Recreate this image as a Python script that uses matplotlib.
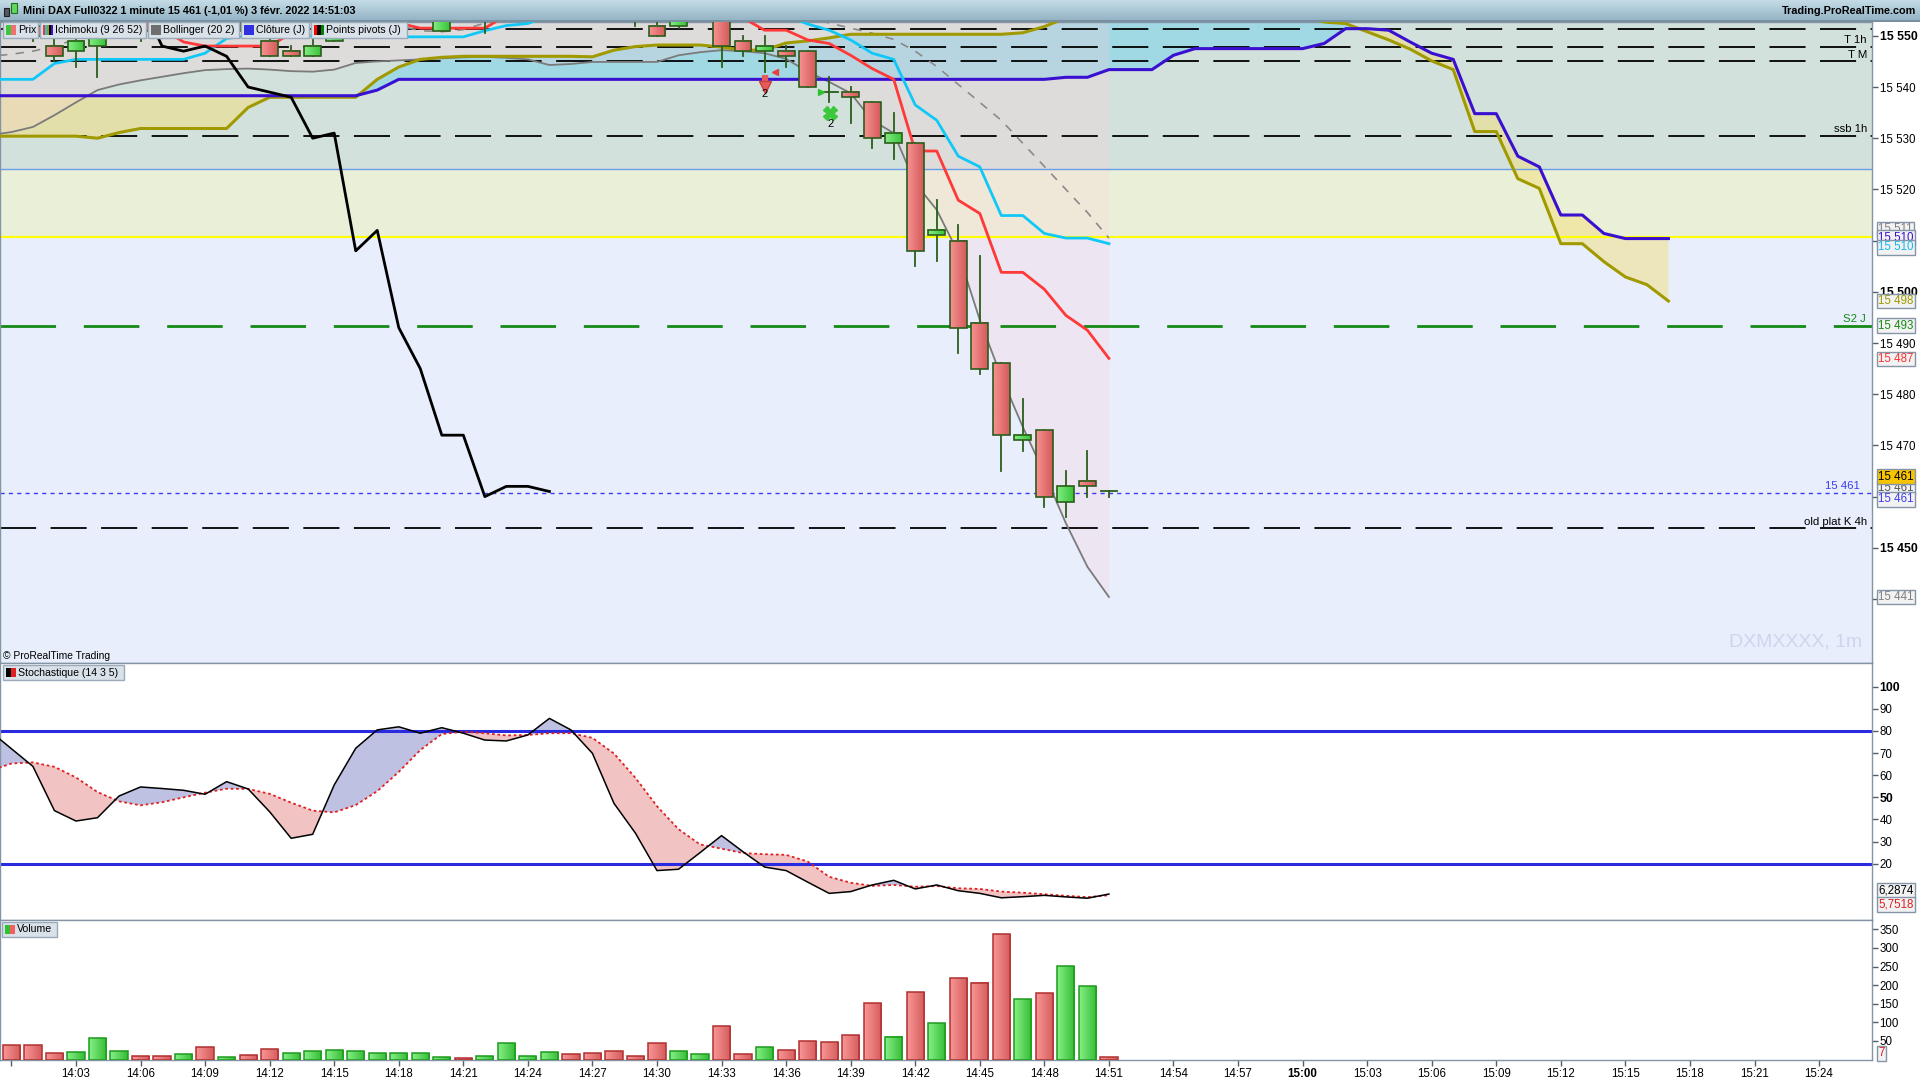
import numpy as np
import matplotlib
matplotlib.use("Agg")
import matplotlib.pyplot as plt
from matplotlib.colors import to_rgb
from matplotlib.patches import Rectangle

plt.rcParams["font.family"] = ["Liberation Sans", "DejaVu Sans"]

W, H = 1920, 1080

# =====================================================================
# Values (x = minutes after 14:00)
# =====================================================================

candle_min = list(range(0, 52))
opens = [
    15556, 15552, 15548, 15547, 15548, 15551, 15554, 15552, 15550, 15553,
    15551, 15554, 15549, 15547, 15546, 15549, 15553, 15555, 15556, 15557,
    15551, 15555, 15553, 15555, 15557, 15558, 15560, 15558, 15556, 15555,
    15552, 15552, 15554, 15557, 15549, 15547, 15547, 15547, 15539, 15539,
    15537, 15529, 15529, 15511, 15510, 15494, 15486, 15471, 15473, 15459,
    15463, 15461,
]
highs = [
    15558, 15554, 15550, 15550, 15553, 15555, 15556, 15554, 15554, 15555,
    15555, 15556, 15552, 15548, 15550, 15553, 15556, 15558, 15559, 15560,
    15557, 15557, 15556, 15558, 15560, 15561, 15561, 15559, 15557, 15556,
    15555, 15556, 15559, 15558, 15550, 15550, 15548, 15547, 15542, 15540,
    15537, 15535, 15529, 15518, 15513, 15507, 15486, 15479, 15473, 15465,
    15469, 15461,
]
lows = [
    15553.5, 15549, 15545, 15544, 15542, 15550, 15549, 15550, 15549.6, 15550,
    15550, 15550, 15546, 15546, 15546, 15549, 15552.8, 15553, 15554, 15553.5,
    15551, 15552.8, 15550.5, 15554, 15556, 15557, 15557, 15555, 15554, 15551.9,
    15550, 15551.5, 15553, 15544, 15546, 15543, 15544, 15540, 15537, 15533,
    15528, 15526, 15505, 15506, 15488, 15484, 15465, 15469, 15458, 15456,
    15460, 15460,
]
closes = [
    15554, 15550, 15546, 15549, 15551, 15554, 15551, 15550, 15553, 15551,
    15554, 15551, 15546, 15546, 15548, 15552, 15555, 15557, 15558, 15559,
    15555, 15553, 15555, 15557, 15558, 15560, 15558, 15556, 15555, 15553,
    15550, 15554, 15557, 15548, 15547, 15548, 15546, 15540, 15539, 15538,
    15530, 15531, 15508, 15512, 15493, 15485, 15472, 15472, 15460, 15462,
    15462, 15461,
]
volumes = [
    38, 38, 17, 20, 57, 22, 9, 9, 14, 33,
    6, 12, 28, 17, 22, 25, 22, 17, 17, 17,
    6, 4, 9, 44, 9, 20, 14, 17, 22, 9,
    44, 22, 14, 89, 14, 33, 25, 49, 46, 65,
    151, 62, 182, 97, 218, 207, 337, 162, 178, 251,
    197, 6,
]
vol_up = [
    0, 0, 0, 1, 1, 1, 0, 0, 1, 0,
    1, 0, 0, 1, 1, 1, 1, 1, 1, 1,
    1, 0, 1, 1, 1, 1, 0, 0, 0, 0,
    0, 1, 1, 0, 0, 1, 0, 0, 0, 0,
    0, 1, 0, 1, 0, 0, 0, 1, 0, 1,
    1, 0,
]

# indicator lines, 13:59 .. 14:51
line_min = list(range(-1, 52))
tenkan = [
    15555, 15555, 15555, 15555, 15555, 15555, 15555,
    15554, 15551.4, 15548.8, 15548, 15548, 15548, 15548,
    15550.5, 15553.5, 15553.5, 15553.5, 15553.5, 15552.5, 15551.5,
    15551.5, 15551.5, 15551.5, 15554, 15554, 15554, 15554,
    15554, 15554, 15554, 15554, 15554, 15554, 15554,
    15553.5, 15551.1, 15551.1, 15549.2, 15548.5, 15546.2, 15543.6,
    15541.5, 15527.5, 15527.5, 15517.9, 15515.3, 15503.8, 15503.8,
    15500.5, 15495.4, 15492.5, 15487,
]
kijun = [
    15541.5, 15541.5, 15541.5, 15544.6, 15545.4, 15545.4, 15545.4,
    15545.4, 15545.4, 15545.4, 15546.6, 15549.5, 15550, 15550,
    15550, 15550, 15550, 15550, 15550, 15549.8, 15549.8,
    15549.8, 15549.8, 15551, 15552, 15552.4, 15554, 15554,
    15554, 15554, 15554, 15554, 15554, 15554, 15554,
    15554, 15554, 15554, 15552.3, 15551.1, 15549.2, 15546.6,
    15545.4, 15536.5, 15533.5, 15526.5, 15524.4, 15514.9, 15514.9,
    15511.4, 15510.5, 15510.5, 15509.4,
]
boll_low = [
    15530.6, 15531.2, 15532.2, 15534.5, 15537, 15539.4, 15540.5,
    15541.3, 15542, 15542.7, 15543.3, 15543.5, 15543.6, 15543.4,
    15543.1, 15543, 15543.4, 15544.7, 15545, 15545.2, 15545.4,
    15545.6, 15545.8, 15545.9, 15545.7, 15545.4, 15544.3, 15544.5,
    15544.9, 15544.9, 15544.9, 15544.9, 15546.2, 15546.8, 15547.2,
    15547, 15546.6, 15545.5, 15543, 15541, 15538.8, 15533.5,
    15531, 15521.2, 15516, 15507.6, 15494.5, 15483.4, 15473.6,
    15464.5, 15454.8, 15446.3, 15440.4,
]
boll_mid = [
    15546, 15546.4, 15547, 15548, 15549.3, 15550.5, 15552,
    15553.5, 15554.5, 15555, 15555, 15555, 15555, 15555,
    15555, 15555, 15554, 15553, 15552.5, 15552, 15551,
    15550.8, 15551.2, 15552.5, 15553.5, 15554.5, 15555, 15555,
    15555, 15555, 15555, 15555, 15555, 15555, 15555,
    15555, 15554.5, 15554, 15553.5, 15552.5, 15551.5, 15550.5,
    15549.3, 15547, 15544, 15540.5, 15537, 15533.5, 15529,
    15524.5, 15520, 15515.5, 15510.5,
]
boll_up = [
    15562, 15562, 15562, 15561.5, 15561.5, 15561.5, 15563.5,
    15565.5, 15567, 15567.5, 15567, 15566.5, 15566.5, 15566.5,
    15567, 15567, 15564.5, 15561.5, 15560, 15559, 15556.5,
    15556, 15556.5, 15559, 15561.5, 15563.5, 15565.5, 15565.5,
    15565, 15565, 15565, 15565, 15564, 15563, 15563,
    15563, 15562.5, 15562.5, 15564, 15564, 15564, 15567.5,
    15567.5, 15573, 15572, 15573.5, 15579.5, 15583.5, 15584.5,
    15584.5, 15585, 15584.5, 15580.5,
]

# lagging span (14:04 .. 14:25)
chikou_min = list(range(4, 26))
chikou = [
    15550, 15554, 15557, 15548, 15547, 15548, 15546, 15540, 15539, 15538,
    15530, 15531, 15508, 15512, 15493, 15485, 15472, 15472, 15460, 15462,
    15462, 15461,
]

# cloud, 13:59 .. 15:17
cloud_min = list(range(-1, 78))
senkou_a = [
    15530.4, 15530.4, 15530.4, 15530.4, 15530.4, 15530, 15531.1,
    15531.9, 15531.9, 15531.9, 15531.9, 15531.9, 15536, 15538,
    15538, 15538, 15538, 15538, 15541.5, 15543.9, 15545.4,
    15545.8, 15546, 15546, 15546, 15546, 15546, 15546,
    15545.9, 15547.2, 15547.9, 15548.2, 15548.2, 15548.2, 15547.8,
    15547.2, 15547.2, 15548.6, 15549, 15549.6, 15550.3, 15550.3,
    15550.3, 15550.3, 15550.3, 15550.3, 15550.3, 15550.3, 15550.6,
    15551.8, 15553.5, 15554.5, 15555, 15555, 15555, 15555,
    15555, 15555, 15555, 15555, 15554.8, 15554, 15552.7,
    15552.4, 15550.8, 15549.2, 15547.4, 15545.1, 15543.4, 15531.3,
    15531.3, 15522.1, 15520.2, 15509.4, 15509.4, 15505.9, 15502.9,
    15501.4, 15498.2,
]
senkou_b = [
    15538.3, 15538.3, 15538.3, 15538.3, 15538.3, 15538.3, 15538.3,
    15538.3, 15538.3, 15538.3, 15538.3, 15538.3, 15538.3, 15538.3,
    15538.3, 15538.3, 15538.3, 15538.3, 15539.4, 15541.5, 15541.5,
    15541.5, 15541.5, 15541.5, 15541.5, 15541.5, 15541.5, 15541.5,
    15541.5, 15541.5, 15541.5, 15541.5, 15541.5, 15541.5, 15541.5,
    15541.5, 15541.5, 15541.5, 15541.5, 15541.5, 15541.5, 15541.5,
    15541.5, 15541.5, 15541.5, 15541.5, 15541.5, 15541.5, 15541.5,
    15541.5, 15541.9, 15541.9, 15543.4, 15543.4, 15543.4, 15546.2,
    15547.5, 15547.5, 15547.5, 15547.5, 15547.5, 15547.5, 15548.5,
    15551.4, 15551.4, 15551.1, 15548.8, 15546.6, 15545.4, 15534.8,
    15534.8, 15526.5, 15524.4, 15515, 15515, 15511.4, 15510.4,
    15510.4, 15510.4,
]

# stochastic (14 3 5), 13:59 .. 14:51
stoch_k = [
    80, 72, 64, 44, 39.3, 40.8, 50.6,
    54.7, 54, 53.2, 51.4, 57.1, 53.8, 43.5,
    31.5, 33.3, 55.6, 72.2, 80.5, 81.9, 79,
    81.5, 79, 75.9, 75.5, 78.2, 85.7, 80.5,
    69.9, 47.3, 33.8, 16.9, 17.5, 25, 32.7,
    25.4, 18.5, 16.9, 11.7, 6.6, 7.4, 10.4,
    12.5, 8.6, 10.4, 7.8, 6.6, 4.6, 5.1,
    5.7, 5, 4.4, 6.3,
]
stoch_d = [
    62, 65.3, 65.8, 63.8, 59, 52.4, 48.2,
    46.4, 47.8, 50, 52.1, 53.9, 53.8, 51.6,
    47.6, 44, 43.2, 46.5, 52.8, 61.5, 71.4,
    78.6, 79.7, 79, 78, 78.2, 79, 79,
    76.9, 69.8, 58.8, 46, 35.6, 28.7, 26.8,
    24.8, 24.3, 24, 21, 14.1, 11.4, 10,
    10.4, 9.6, 9.9, 8.9, 8.6, 7.4, 6.9,
    6.2, 5.5, 4.9, 5.75,
]

# horizontal levels
black_levels = [15551.4, 15547.9, 15545.0, 15530.4, 15453.8]
black_names = ["", "T 1h", "T M", "ssb 1h", "old plat K 4h"]
s2_level = 15493.4
last_price = 15460.8
zone_top = 15523.9
zone_mid = 15510.8

WICK = "#2b5d1b"
X_LIM = (-0.53, 86.46)


def hgrad(ax, x0, x1, y0, y1, c_left, c_right, z):
    t = np.linspace(0, 1, 12)[None, :, None]
    img = (1 - t) * np.array(to_rgb(c_left)) + t * np.array(to_rgb(c_right))
    ax.imshow(img, extent=(x0, x1, y0, y1), aspect="auto",
              interpolation="bilinear", zorder=z)


def style_axes(ax):
    ax.set_xlim(*X_LIM)
    for sp in ax.spines.values():
        sp.set_color("#8394a5")
        sp.set_linewidth(1)
    ax.yaxis.tick_right()
    ax.tick_params(axis="y", direction="out", length=4, width=1, pad=1.5,
                   labelsize=8.3, color="#51606e")


def value_box(ax, y, text, color, fc="#f2f2f2"):
    ax.text(1878 / 1872, y, text, transform=ax.get_yaxis_transform(),
            ha="left", va="center", fontsize=8.3, color=color, clip_on=False,
            zorder=20, bbox=dict(boxstyle="square,pad=0.12", fc=fc,
                                 ec="#8395a7", lw=1))


fig = plt.figure(figsize=(W / 100, H / 100), dpi=100)
fig.patch.set_facecolor("white")


def px_rect(x, y, w, h, **kw):
    fig.add_artist(Rectangle((x / W, 1 - (y + h) / H), w / W, h / H,
                             transform=fig.transFigure, **kw))


def legend_box(x, y, w, h, label, icon_cols):
    px_rect(x, y, w, h, fc="#d9e1e9", ec="#9aaabb", lw=1, zorder=30)
    iw = 10 / len(icon_cols)
    for i, c in enumerate(icon_cols):
        px_rect(x + 3 + i * iw, y + 3, iw, h - 6, fc=c, ec="none", zorder=31)
    fig.text((x + 15) / W, 1 - (y + h / 2) / H, label, ha="left",
             va="center", fontsize=7.6, zorder=32)


# ---------------------------------------------------------------------
# price panel
# ---------------------------------------------------------------------
ax_p = fig.add_axes([0, 1 - 663 / H, 1872 / W, 641 / H])
ax_p.set_facecolor("#e8eefc")
ax_p.axhspan(zone_top, 15600, color="#d3e1dd", lw=0, zorder=0)
ax_p.axhspan(zone_mid, zone_top, color="#eaf0d8", lw=0, zorder=0)

sa = np.array(senkou_a)
sb = np.array(senkou_b)
ax_p.fill_between(cloud_min, sa, sb, where=sa >= sb, interpolate=True,
                  color="#62cfee", alpha=0.45, lw=0, zorder=1)
ax_p.fill_between(cloud_min, sa, sb, where=sa < sb, interpolate=True,
                  color="#f2df7a", alpha=0.5, lw=0, zorder=1)
ax_p.fill_between(line_min, boll_low, boll_up, color="#ffd0d8", alpha=0.25,
                  lw=0, zorder=1.5)

ax_p.axhline(zone_top, color="#6a9ee8", lw=1, zorder=2)
ax_p.axhline(zone_mid, color="#ffff00", lw=1.5, zorder=2)
for lvl in black_levels:
    ax_p.axhline(lvl, color="black", lw=1.3, dashes=(20, 8), zorder=2.2)
ax_p.axhline(s2_level, color="#168a16", lw=2, dashes=(20, 10), zorder=2.2)
ax_p.axhline(last_price, color="#3c3cf0", lw=1, dashes=(3, 3), zorder=2.2)

ax_p.plot(line_min, boll_low, color="#7a7a7a", lw=1.3, zorder=3)
ax_p.plot(line_min, boll_mid, color="#8a8a8a", lw=1.2, dashes=(5, 5), zorder=3)
ax_p.plot(cloud_min, senkou_a, color="#a09a00", lw=2.2, zorder=3)
ax_p.plot(cloud_min, senkou_b, color="#3a10d0", lw=2.2, zorder=3)
ax_p.plot(line_min, kijun, color="#10c8f8", lw=2, zorder=3.5)
ax_p.plot(line_min, tenkan, color="#ff3838", lw=2, zorder=3.5)
ax_p.plot(chikou_min, chikou, color="black", lw=2, zorder=3.5)

hw = 0.39
for m, o, h, l, c in zip(candle_min, opens, highs, lows, closes):
    ax_p.plot([m, m], [l, h], color=WICK, lw=1.3, zorder=5)
    if abs(c - o) < 0.3:
        ax_p.plot([m - hw, m + hw], [o, o], color=WICK, lw=1.3, zorder=6)
        continue
    lo, hi = min(o, c), max(o, c)
    if c > o:
        hgrad(ax_p, m - hw, m + hw, lo, hi, "#80ec80", "#3cc43c", 6)
    else:
        hgrad(ax_p, m - hw, m + hw, lo, hi, "#f79090", "#d45c5c", 6)
    ax_p.add_patch(Rectangle((m - hw, lo), 2 * hw, hi - lo, fill=False,
                             ec=WICK, lw=1.2, zorder=6.5))

# signal markers
ax_p.plot([35, 35], [15542.4, 15540.8], color="#e85a5a", lw=4.5,
          solid_capstyle="butt", zorder=7)
ax_p.plot(35, 15540.1, marker="v", ms=9, color="#e85a5a", mec="#c84040", zorder=7)
ax_p.text(35, 15538.6, "2", ha="center", va="center", fontsize=8, zorder=7)
ax_p.plot(35.5, 15542.9, marker="<", ms=5, color="#e84040", zorder=7)
ax_p.plot(37.6, 15539, marker=">", ms=5, color="#30c030", zorder=7)
ax_p.plot(38.05, 15534.9, marker="X", ms=10, color="#3cc83c", zorder=7)
ax_p.text(38.05, 15532.7, "2", ha="center", va="center", fontsize=8, zorder=7)

ytr = ax_p.get_yaxis_transform()
for lvl, name in zip(black_levels, black_names):
    if name:
        ax_p.text(1867 / 1872, lvl + 0.35, name, transform=ytr, ha="right",
                  va="bottom", fontsize=8.2, zorder=8)
ax_p.text(1866 / 1872, s2_level + 0.35, "S2 J", transform=ytr, ha="right",
          va="bottom", fontsize=8.2, color="#168a16", zorder=8)
ax_p.text(1860 / 1872, last_price + 0.35, "15 461", transform=ytr, ha="right",
          va="bottom", fontsize=8.2, color="#3c3cf0", zorder=8)

ax_p.text(0.9947, 0.025, "DXMXXXX, 1m", transform=ax_p.transAxes, ha="right",
          va="baseline", fontsize=14, color="#ccd6ee", zorder=8)
ax_p.text(3 / 1872, 0.011, "© ProRealTime Trading", transform=ax_p.transAxes,
          ha="left", va="center", fontsize=7.4, zorder=8)

style_axes(ax_p)
ax_p.set_ylim(15427.5, 15552.7)
ax_p.set_xticks([])
p_ticks = list(range(15440, 15560, 10))
p_labels = ["" if t in (15440, 15460, 15510) else f"{t:,}".replace(",", " ")
            for t in p_ticks]
ax_p.set_yticks(p_ticks, labels=p_labels)
for lab in ax_p.get_yticklabels():
    if lab.get_text() in ("15 550", "15 500", "15 450"):
        lab.set_fontweight("bold")
        lab.set_fontsize(8.8)

value_box(ax_p, 15512.2, "15 511", "#808080")
value_box(ax_p, 15510.6, "15 510", "#3a10d0")
value_box(ax_p, 15508.7, "15 510", "#10b8f0")
value_box(ax_p, 15498.2, "15 498", "#a09a00")
value_box(ax_p, 15493.4, "15 493", "#168a16")
value_box(ax_p, 15486.9, "15 487", "#ff3030")
value_box(ax_p, 15461.7, "15 461", "#555555")
value_box(ax_p, 15463.9, "15 461", "black", fc="#f8c400")
value_box(ax_p, 15459.5, "15 461", "#3c3cf0")
value_box(ax_p, 15440.4, "15 441", "#808080")

# ---------------------------------------------------------------------
# stochastic panel
# ---------------------------------------------------------------------
ax_s = fig.add_axes([0, 1 - 920 / H, 1872 / W, 257 / H])
k = np.array(stoch_k)
d = np.array(stoch_d)
ax_s.fill_between(line_min, k, d, where=k >= d, interpolate=True,
                  color="#bfc1e3", lw=0, zorder=1)
ax_s.fill_between(line_min, k, d, where=k < d, interpolate=True,
                  color="#f2c3c3", lw=0, zorder=1)
ax_s.axhline(80, color="#2a2ae0", lw=2.2, zorder=2)
ax_s.axhline(20, color="#2a2ae0", lw=2.2, zorder=2)
ax_s.plot(line_min, stoch_d, color="#e02020", lw=1.3, ls=(0, (1.5, 1.5)), zorder=3)
ax_s.plot(line_min, stoch_k, color="black", lw=1.1, zorder=3)
style_axes(ax_s)
ax_s.set_ylim(-5.44, 110.74)
ax_s.set_xticks([])
s_ticks = list(range(20, 101, 10))
ax_s.set_yticks(s_ticks, labels=[str(t) for t in s_ticks])
for lab in ax_s.get_yticklabels():
    if lab.get_text() in ("100", "50"):
        lab.set_fontweight("bold")
        lab.set_fontsize(8.8)
value_box(ax_s, 7.8, "6,2874", "black")
value_box(ax_s, 1.4, "5,7518", "#e02020")

# ---------------------------------------------------------------------
# volume panel
# ---------------------------------------------------------------------
ax_v = fig.add_axes([0, 1 - 1060 / H, 1872 / W, 140 / H])
bw = 0.4
for m, v, up in zip(candle_min, volumes, vol_up):
    if up:
        hgrad(ax_v, m - bw, m + bw, 0, v, "#84ee84", "#36be36", 2)
        ec = "#1e9a1e"
    else:
        hgrad(ax_v, m - bw, m + bw, 0, v, "#f79494", "#d65e5e", 2)
        ec = "#b03030"
    ax_v.add_patch(Rectangle((m - bw, 0), 2 * bw, v, fill=False, ec=ec,
                             lw=1.1, zorder=3))
style_axes(ax_v)
ax_v.set_ylim(-1.07, 375)
v_ticks = list(range(50, 351, 50))
ax_v.set_yticks(v_ticks, labels=[str(t) for t in v_ticks])
x_ticks = list(range(0, 85, 3))
x_labels = ["" if t == 0 else f"{14 + t // 60}:{t % 60:02d}" for t in x_ticks]
ax_v.set_xticks(x_ticks, labels=x_labels)
ax_v.tick_params(axis="x", direction="out", length=4, width=1, pad=2,
                 labelsize=8.3, color="#51606e")
for lab in ax_v.get_xticklabels():
    if lab.get_text() == "15:00":
        lab.set_fontweight("bold")
value_box(ax_v, 17, "7", "#e02020")

# ---------------------------------------------------------------------
# title bar and legends
# ---------------------------------------------------------------------
ax_t = fig.add_axes([0, 1 - 21 / H, 1, 21 / H])
tg = np.linspace(0, 1, 20)[:, None, None]
bar = (1 - tg) * np.array(to_rgb("#c4dbe6")) + tg * np.array(to_rgb("#93b3c4"))
ax_t.imshow(bar, extent=(0, 1, 0, 1), aspect="auto", interpolation="bilinear")
ax_t.set_xlim(0, 1)
ax_t.set_ylim(0, 1)
ax_t.axis("off")
px_rect(0, 20, W, 1.5, fc="#7890a0", ec="none", zorder=5)
px_rect(4, 8, 5, 8, fc="#505860", ec="#202020", lw=0.8, zorder=6)
px_rect(11, 3, 6, 10, fc="#60d860", ec="#207020", lw=0.8, zorder=6)
fig.text(23 / W, 1 - 11 / H,
         "Mini DAX Full0322 1 minute 15 461 (-1,01 %) 3 févr. 2022 14:51:03",
         ha="left", va="center", fontsize=7.8, fontweight="bold")
fig.text(1916 / W, 1 - 11 / H, "Trading.ProRealTime.com", ha="right",
         va="center", fontsize=7.8, fontweight="bold")

legend_box(3, 22, 35, 16, "Prix", ["#3cc83c", "#f07070"])
legend_box(40, 22, 106, 16, "Ichimoku (9 26 52)",
           ["#ff3030", "#10c8f8", "#a09a00", "#000000", "#3a10d0"])
legend_box(148, 22, 91, 16, "Bollinger (20 2)", ["#6e6e6e"])
legend_box(241, 22, 68, 16, "Clôture (J)", ["#3030e0"])
legend_box(311, 22, 96, 16, "Points pivots (J)", ["#ff0000", "#000000", "#008000"])
legend_box(3, 665, 121, 15, "Stochastique (14 3 5)", ["#000000", "#e02020"])
legend_box(2, 922, 55, 15, "Volume", ["#30c030", "#f06060"])

fig.savefig("out.png", dpi=100)
